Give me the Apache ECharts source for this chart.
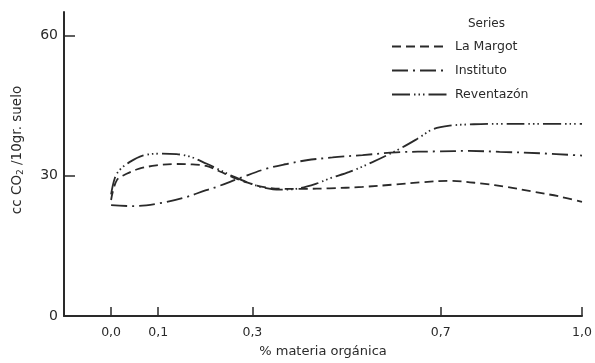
<!DOCTYPE html>
<html>
<head>
<meta charset="utf-8">
<script src="https://cdn.jsdelivr.net/npm/echarts@6/dist/echarts.min.js"></script>
<style>html,body{margin:0;padding:0;background:#fff}#c{width:595px;height:363px}</style>
</head>
<body>
<div id="c"></div>
<script>
// ---- data ----
var seriesNames = ['La Margot', 'Instituto', 'Reventazón'];
var xTicks = [0, 0.1, 0.3, 0.7, 1.0];
var yTicks = [0, 30, 60];

var xMargot = [0, 0.012, 0.033, 0.06, 0.096, 0.138, 0.173, 0.202, 0.231, 0.26, 0.29, 0.322, 0.364, 0.41, 0.464, 0.534, 0.60, 0.66, 0.72, 0.789, 0.84, 0.895, 0.95, 1.0];
var yMargot = [24.8, 29.0, 30.4, 31.5, 32.2, 32.5, 32.4, 32.1, 30.9, 29.6, 28.5, 27.6, 27.2, 27.2, 27.3, 27.6, 28.1, 28.6, 28.9, 28.3, 27.6, 26.6, 25.6, 24.4];

var xInstituto = [0, 0.046, 0.103, 0.152, 0.202, 0.224, 0.279, 0.33, 0.373, 0.415, 0.47, 0.534, 0.606, 0.697, 0.76, 0.825, 0.91, 1.0];
var yInstituto = [23.7, 23.5, 24.1, 25.2, 26.9, 27.6, 29.7, 31.5, 32.5, 33.3, 33.9, 34.4, 35.0, 35.2, 35.3, 35.1, 34.8, 34.3];

var xReventazon = [0, 0.008, 0.018, 0.039, 0.067, 0.103, 0.139, 0.167, 0.202, 0.231, 0.258, 0.294, 0.322, 0.358, 0.394, 0.436, 0.464, 0.506, 0.555, 0.612, 0.649, 0.683, 0.719, 0.77, 0.825, 0.9, 1.0];
var yReventazon = [26.0, 29.5, 31.2, 32.9, 34.3, 34.7, 34.6, 34.1, 32.6, 31.2, 29.9, 28.4, 27.5, 27.0, 27.2, 28.3, 29.4, 30.8, 32.9, 35.7, 37.8, 39.9, 40.7, 41.0, 41.1, 41.1, 41.1];

function zip(xs, ys) { return xs.map(function (x, i) { return [x, ys[i]]; }); }

var ink = '#2a2a2a';
var font = 'DejaVu Sans';
var dashes = [[9, 5], [16, 5, 2, 5], [18, 4, 1.5, 3, 1.5, 3, 1.5, 4]];
var datasets = [zip(xMargot, yMargot), zip(xInstituto, yInstituto), zip(xReventazon, yReventazon)];

var chart = echarts.init(document.getElementById('c'), null, { renderer: 'canvas' });
chart.setOption({
  backgroundColor: '#fff',
  animation: false,
  title: {
    text: 'Series', left: 463, top: 13,
    textStyle: { fontFamily: font, fontSize: 12, fontWeight: 'normal', color: ink }
  },
  legend: {
    orient: 'vertical', left: 386, top: 35,
    itemWidth: 55, itemHeight: 12, itemGap: 11,
    data: seriesNames,
    itemStyle: { opacity: 0 },
    textStyle: { fontFamily: font, fontSize: 12.5, color: ink, padding: [0, 0, 0, 3] }
  },
  grid: { left: 64, right: 13, top: 12, bottom: 41 },
  xAxis: {
    type: 'value', min: -0.1, max: 1.0,
    name: '% materia orgánica', nameLocation: 'middle', nameGap: 29,
    nameTextStyle: { fontFamily: font, fontSize: 13, color: ink },
    axisLine: { show: true, onZero: false, lineStyle: { color: ink, width: 2 } },
    axisTick: { show: true, inside: true, length: 9, customValues: xTicks, lineStyle: { color: ink, width: 1.5 } },
    axisLabel: {
      customValues: xTicks, margin: 10, fontFamily: font, fontSize: 12.5, color: ink,
      formatter: function (v) { return v.toFixed(1).replace('.', ','); }
    },
    splitLine: { show: false }
  },
  yAxis: {
    type: 'value', min: 0, max: 65,
    name: 'cc CO{s|2} /10gr. suelo', nameLocation: 'middle', nameGap: 39, nameRotate: 90,
    nameTextStyle: {
      fontFamily: font, fontSize: 13.5, color: ink, padding: [0, 0, 0, 28],
      rich: { s: { fontFamily: font, fontSize: 9, color: ink, verticalAlign: 'bottom', padding: [7, 0, 0, 0] } }
    },
    axisLine: { show: true, onZero: false, lineStyle: { color: ink, width: 2 } },
    axisTick: { show: true, inside: true, length: 11, customValues: [30, 60], lineStyle: { color: ink, width: 1.5 } },
    axisLabel: { customValues: yTicks, margin: 6, fontFamily: font, fontSize: 14, color: ink },
    splitLine: { show: false }
  },
  series: seriesNames.map(function (n, i) {
    return {
      name: n, type: 'line', data: datasets[i], smooth: 0.35,
      symbol: 'none', showSymbol: false,
      lineStyle: { color: ink, width: 1.8, type: dashes[i] },
      itemStyle: { color: ink }
    };
  })
});
</script>
</body>
</html>
